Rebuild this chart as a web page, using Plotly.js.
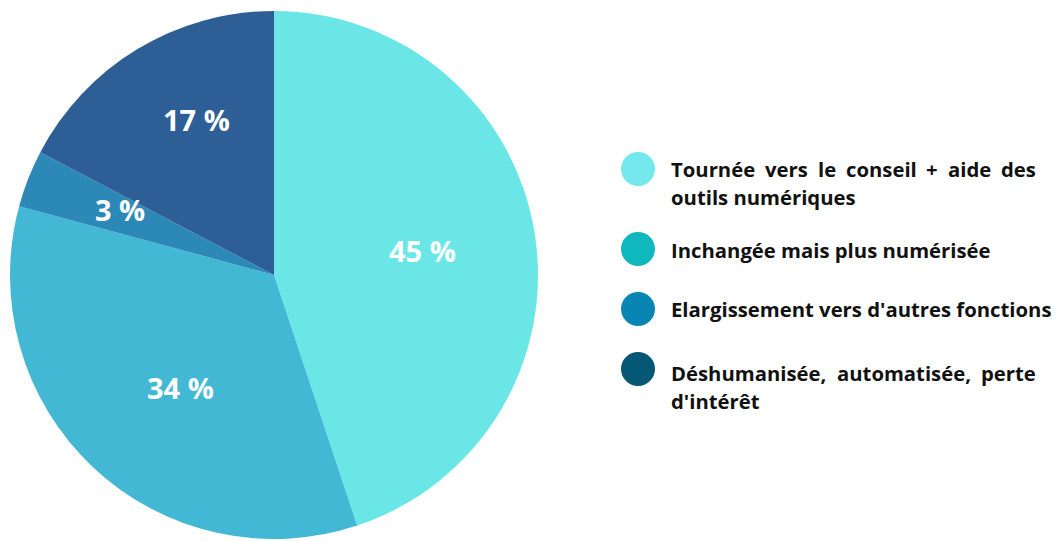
<!DOCTYPE html>
<html>
<head>
<meta charset="utf-8">
<script src="https://cdn.plot.ly/plotly-3.0.1.min.js"></script>
<style>html,body{margin:0;padding:0;background:#fff;}#chart{width:1064px;height:541px;}</style>
</head>
<body>
<div id="chart"></div>
<script>
// ---- data ----
const categories = [
  "Tournée vers le conseil + aide des outils numériques",
  "Inchangée mais plus numérisée",
  "Elargissement vers d'autres fonctions",
  "Déshumanisée, automatisée, perte d'intérêt"
];
const sliceLabels = ["45 %", "34 %", "3 %", "17 %"];
const sliceValues = [44.9, 34.3, 3.5, 17.3];
const sliceColors = ["#6be6e7", "#42b8d5", "#2c89b7", "#2e5e96"];
const legendColors = ["#74e8ec", "#0fb8bc", "#0885b3", "#045876"];
// legend lines (justified flag per line)
const legendLines = [
  [["Tournée vers le conseil + aide des", true], ["outils numériques", false]],
  [["Inchangée mais plus numérisée", false]],
  [["Elargissement vers d'autres fonctions", false]],
  [["Déshumanisée, automatisée, perte", true], ["d'intérêt", false]]
];

// ---- layout constants ----
const W = 1064, H = 541;
const cx = 274, cy = 275, R = 264;
const labelRadius = [0.57, 0.553, 0.633, 0.66];
const labelAngleShift = [0, -3.5, 1.6, 4.6]; // degrees
const px = x => x / W, py = y => 1 - y / H;

const annotations = [];
const shapes = [];

// slice labels placed along each slice's mid-angle
const total = sliceValues.reduce((a, b) => a + b, 0);
let cum = 0;
sliceValues.forEach((v, i) => {
  const mid = (cum + v / 2) / total * 2 * Math.PI + labelAngleShift[i] * Math.PI / 180;
  cum += v;
  const x = cx + Math.sin(mid) * R * labelRadius[i];
  const y = cy - Math.cos(mid) * R * labelRadius[i];
  annotations.push({
    xref: 'paper', yref: 'paper', x: px(x), y: py(y),
    xanchor: 'center', yanchor: 'middle', showarrow: false,
    text: sliceLabels[i],
    font: {family: 'Open Sans', size: 29, color: '#ffffff', weight: 700}
  });
});

// legend
const fs = 20.3;
const fontCss = "700 " + fs + "px 'Open Sans'";
const ctx = document.createElement('canvas').getContext('2d');
ctx.font = fontCss;
const pad = 3;
const textLeft = 672, textRight = 1037;
const circleX = 638, circleR = 17;
const circleY = [169, 249, 309, 369];
const firstBaseline = [176, 257, 316, 380];
const lineGap = 27.3;

legendLines.forEach((lines, i) => {
  shapes.push({
    type: 'circle', xref: 'paper', yref: 'paper',
    x0: px(circleX - circleR), x1: px(circleX + circleR),
    y0: py(circleY[i] + circleR), y1: py(circleY[i] - circleR),
    fillcolor: legendColors[i], line: {width: 0}
  });
  lines.forEach((ln, j) => {
    const [txt, just] = ln;
    const base = firstBaseline[i] + j * lineGap;
    const yc = base - fs * 0.33;
    const words = just ? txt.split(' ') : [txt];
    if (just && words.length > 1) {
      const widths = words.map(w => ctx.measureText(w).width);
      const sumW = widths.reduce((a, b) => a + b, 0);
      const gap = (textRight - textLeft - sumW) / (words.length - 1);
      let x = textLeft;
      words.forEach((w, k) => {
        annotations.push({
          xref: 'paper', yref: 'paper', x: px(x - pad), y: py(yc),
          xanchor: 'left', yanchor: 'middle', showarrow: false,
          text: w, font: {family: 'Open Sans', size: fs, color: '#111111', weight: 700}
        });
        x += widths[k] + gap;
      });
    } else {
      annotations.push({
        xref: 'paper', yref: 'paper', x: px(textLeft - pad), y: py(yc),
        xanchor: 'left', yanchor: 'middle', showarrow: false,
        text: txt, font: {family: 'Open Sans', size: fs, color: '#111111', weight: 700}
      });
    }
  });
});

const trace = {
  type: 'pie',
  labels: categories,
  values: sliceValues,
  sort: false,
  direction: 'clockwise',
  rotation: 0,
  marker: {colors: sliceColors, line: {width: 0}},
  textinfo: 'none',
  hoverinfo: 'skip',
  showlegend: false,
  domain: {x: [px(cx - R), px(cx + R)], y: [py(cy + R), py(cy - R)]}
};

Plotly.newPlot('chart', [trace], {
  width: W, height: H,
  margin: {l: 0, r: 0, t: 0, b: 0},
  paper_bgcolor: '#ffffff',
  showlegend: false,
  annotations: annotations,
  shapes: shapes
}, {displayModeBar: false, staticPlot: true});
</script>
</body>
</html>
